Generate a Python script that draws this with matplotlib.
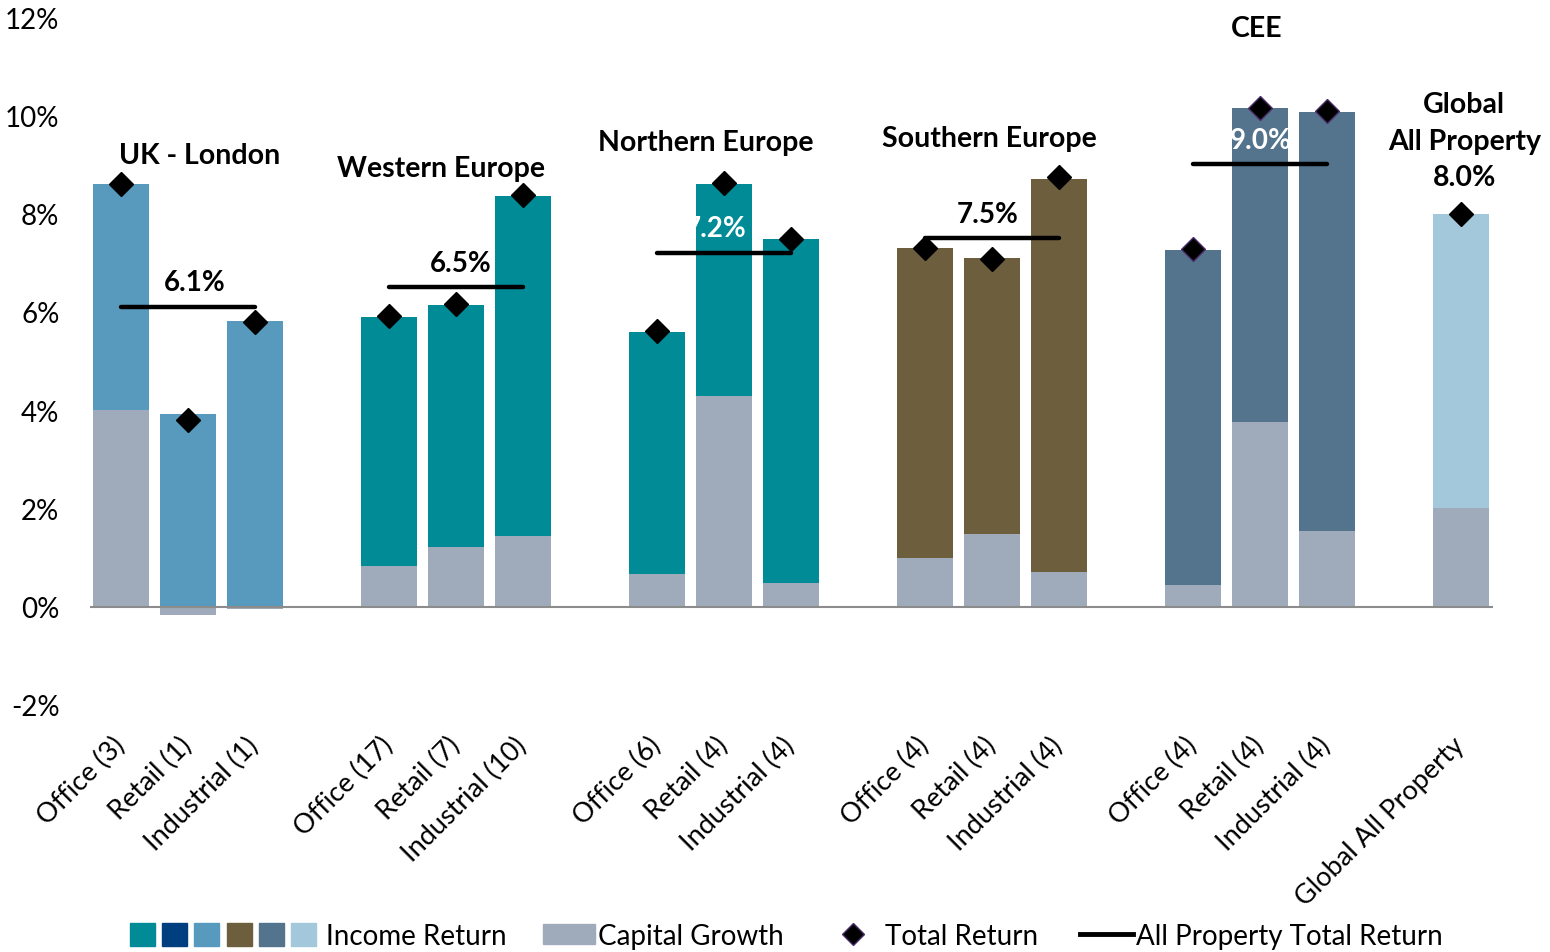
import numpy as np
import matplotlib
matplotlib.use("Agg")
import matplotlib.pyplot as plt
from matplotlib.patches import Patch
from matplotlib.lines import Line2D
from matplotlib.legend_handler import HandlerTuple

plt.rcParams['font.family'] = ['Lato', 'DejaVu Sans']

# data (% p.a.)
groups = ["UK - London", "Western Europe", "Northern Europe", "Southern Europe", "CEE"]
sectors = ["Office", "Retail", "Industrial"]
counts = [[3, 1, 1], [17, 7, 10], [6, 4, 4], [4, 4, 4], [4, 4, 4]]
capital = [[4.00, -0.17, -0.05], [0.82, 1.21, 1.43], [0.66, 4.28, 0.48], [1.00, 1.47, 0.70], [0.44, 3.75, 1.55]]
income = [[4.61, 3.93, 5.82], [5.08, 4.92, 6.93], [4.94, 4.33, 7.01], [6.29, 5.63, 8.01], [6.81, 6.40, 8.52]]
total = [[8.60, 3.79, 5.80], [5.92, 6.15, 8.38], [5.62, 8.63, 7.49], [7.30, 7.08, 8.75], [7.27, 10.15, 10.09]]
group_total = [6.1, 6.5, 7.2, 7.5, 9.0]

global_label = "Global All Property"
global_capital = 2.0
global_income = 6.0
global_total = 8.0

# styling
group_colors = ["#5899BE", "#008B96", "#008B96", "#6D5E3E", "#54738D"]
global_color = "#A4C8DB"
legend_colors = ["#008B96", "#003F7F", "#5899BE", "#6D5E3E", "#54738D", "#A4C8DB"]
grey = "#9FABBA"
heading_dx = [0.18, -0.22, -0.27, -0.03, -0.04]
heading_y = [9.2, 8.93, 9.46, 9.54, 11.78]
label_dx = [0.1, 0.07, -0.12, -0.06, 0.02]
label_color = ["black", "black", "white", "black", "white"]
fs = 20
hfs = 20.5
width = 0.83

fig = plt.figure(figsize=(15.5, 9.53), dpi=100)
ax = fig.add_axes([90 / 1550, 1 - 706 / 953, (1493 - 90) / 1550, (706 - 18) / 953])

ticks = []
ticklabels = []
for g in range(len(groups)):
    xs = np.arange(3) + g * 4
    cap = np.array(capital[g])
    inc = np.array(income[g])
    ax.bar(xs, cap, width, color=grey, zorder=2)
    ax.bar(xs, inc, width, bottom=np.maximum(cap, 0), color=group_colors[g], zorder=2)
    mec = "#4B2E6B" if g == 4 else "black"
    ax.plot(xs, total[g], "D", color="black", mec=mec, mew=1, ms=12, ls="none", zorder=4)
    ax.plot([xs[0], xs[-1]], [group_total[g]] * 2, color="black", lw=3.2,
            solid_capstyle="round", zorder=3)
    ax.text(xs.mean() + label_dx[g], group_total[g] + 0.5, f"{group_total[g]:.1f}%",
            ha="center", va="center", fontsize=fs, fontweight="bold",
            color=label_color[g], zorder=5)
    ax.text(xs.mean() + heading_dx[g], heading_y[g], groups[g], ha="center", va="center",
            fontsize=hfs, fontweight="bold", zorder=5)
    ticks += list(xs)
    ticklabels += [f"{s} ({c})" for s, c in zip(sectors, counts[g])]

gx = len(groups) * 4
ax.bar(gx, global_capital, width, color=grey, zorder=2)
ax.bar(gx, global_income, width, bottom=global_capital, color=global_color, zorder=2)
ax.plot(gx, global_total, "D", color="black", ms=12, zorder=4)
ax.text(gx + 0.05, 9.48, f"Global\nAll Property\n{global_total:.1f}%", ha="center",
        va="center", fontsize=hfs, fontweight="bold", linespacing=1.5)
ticks.append(gx)
ticklabels.append(global_label)

ax.axhline(0, color="#8C8C8C", lw=1.5, zorder=3)
ax.set_xlim(-0.46, 20.48)
ax.set_ylim(-2, 12)
ax.set_yticks(np.arange(-2, 13, 2))
ax.set_yticklabels([f"{v}%" for v in range(-2, 13, 2)], fontsize=fs)
ax.set_xticks(ticks)
ax.set_xticklabels(ticklabels, rotation=45, ha="right", va="center",
                   rotation_mode="anchor", fontsize=19.5)
ax.tick_params(axis="both", length=0)
ax.tick_params(axis="y", pad=22)
ax.tick_params(axis="x", pad=26)
for sp in ax.spines.values():
    sp.set_visible(False)

# legend, four pieces laid out along the bottom
lfs = 20
ly = 1 - 937 / 953
income_handles = tuple(Patch(color=c) for c in legend_colors)
fig.legend([income_handles], ["Income Return"], handler_map={tuple: HandlerTuple(ndivide=None, pad=0.26)},
           loc="center left", bbox_to_anchor=(130 / 1550, ly), frameon=False, fontsize=lfs,
           handlelength=6.7, handleheight=0.87, handletextpad=0.35, borderpad=0, borderaxespad=0)
fig.legend([Patch(color=grey)], ["Capital Growth"], loc="center left",
           bbox_to_anchor=(543 / 1550, ly), frameon=False, fontsize=lfs,
           handlelength=1.87, handleheight=0.72, handletextpad=0.12, borderpad=0, borderaxespad=0)
fig.legend([Line2D([], [], marker="D", color="black", mec="#4B2E6B", ls="none", ms=11)],
           ["Total Return"], loc="center left", bbox_to_anchor=(841 / 1550, ly),
           frameon=False, fontsize=lfs, handlelength=0.85, handletextpad=0.72,
           borderpad=0, borderaxespad=0)
fig.legend([Line2D([], [], color="black", lw=3.5)], ["All Property Total Return"],
           loc="center left", bbox_to_anchor=(1080 / 1550, ly), frameon=False, fontsize=lfs,
           handlelength=1.9, handletextpad=0.12, borderpad=0, borderaxespad=0)

fig.savefig("out.png", dpi=100, facecolor="white")
